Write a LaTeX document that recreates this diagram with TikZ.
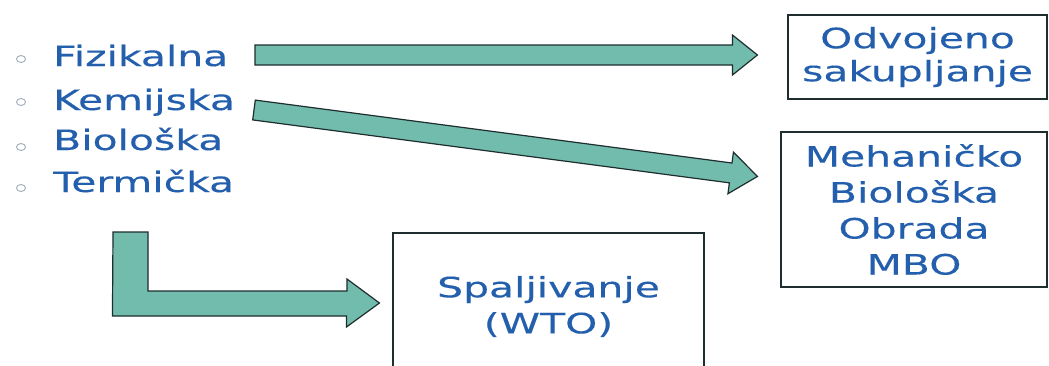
\documentclass[tikz,border=0pt]{standalone}
\usepackage{fontspec}
\usepackage{tikz}
\usetikzlibrary{calc}
\newfontfamily\slidefont[FakeStretch=1.46,FakeBold=0.3]{DejaVu Sans}
\definecolor{slideblue}{RGB}{35,95,172}
\definecolor{arrowfill}{RGB}{114,188,174}
\definecolor{arrowline}{RGB}{30,45,45}
\definecolor{bulletgrey}{RGB}{165,178,192}
\newcommand{\blockarrow}[5]{% tail, tip, shaft half width, head half width, head length
	\coordinate (#2-base) at ($(#2)!#5!(#1)$);
	\draw[blockarrow] ($(#1)!#3!90:(#2)$) -- ($(#2-base)!#3!90:(#2)$) -- ($(#2-base)!#4!90:(#2)$)
		-- (#2) -- ($(#2-base)!#4!-90:(#2)$) -- ($(#2-base)!#3!-90:(#2)$) -- ($(#1)!#3!-90:(#2)$) -- cycle;
}

\begin{document}
\begin{tikzpicture}[x=1pt, y=-1pt,
		item/.style={anchor=base west, inner sep=0pt, text=slideblue, font=\slidefont\fontsize{28}{34}\selectfont},
		bullet/.style={draw=bulletgrey, line width=1pt},
		result/.style={draw=arrowline, line width=1.1pt, inner sep=0pt, align=center, text=slideblue, font=\slidefont\fontsize{28}{36}\selectfont},
		blockarrow/.style={fill=arrowfill, draw=arrowline, line width=1.2pt, line join=miter}]
		\clip (0,0) rectangle (1049,365);

		\foreach \y/\d/\t [count=\i] in {66/7/Fizikalna, 110/8/Kemijska, 150/3/Biološka, 192/4/Termička} {
			\node[item] (it\i) at (53,\y) {\t};
			\draw[bullet] ($(it\i.base west)+(-32,-\d)$) ellipse (4.5 and 3.5);
		}

		\node[result, minimum width=259, minimum height=84, font=\slidefont\fontsize{28}{33}\selectfont] (odv) at (917.5,57) {Odvojeno\\sakupljanje};
		\node[result, minimum width=266, minimum height=155] (mbo) at (914,209.5) {Mehaničko\\Biološka\\Obrada\\MBO};
		\node[result, minimum width=311, minimum height=147] (spa) at (548.5,306.5) {Spaljivanje\\(WTO)};

		\coordinate (fizTail) at (255,55);
		\coordinate (fizTip) at ($(odv.west)+(-30,-2)$);
		\blockarrow{fizTail}{fizTip}{10pt}{20pt}{25pt}

		\coordinate (kemTail) at (254,110);
		\coordinate (kemTip) at ($(mbo.north west)+(-23,45)$);
		\blockarrow{kemTail}{kemTip}{10pt}{21pt}{27pt}

		\coordinate (terTop) at (113,232);
		\coordinate (terTip) at ($(spa.west)+(-13,-3.5)$);
		\draw[blockarrow] (terTop) -- ++(35,0) -- ++(0,59) -- ++(199,0) -- ++(0,-12) -- (terTip)
			-- ++(-33,24) -- ++(0,-11) -- ++(-234,0) -- cycle;
\end{tikzpicture}
\end{document}
